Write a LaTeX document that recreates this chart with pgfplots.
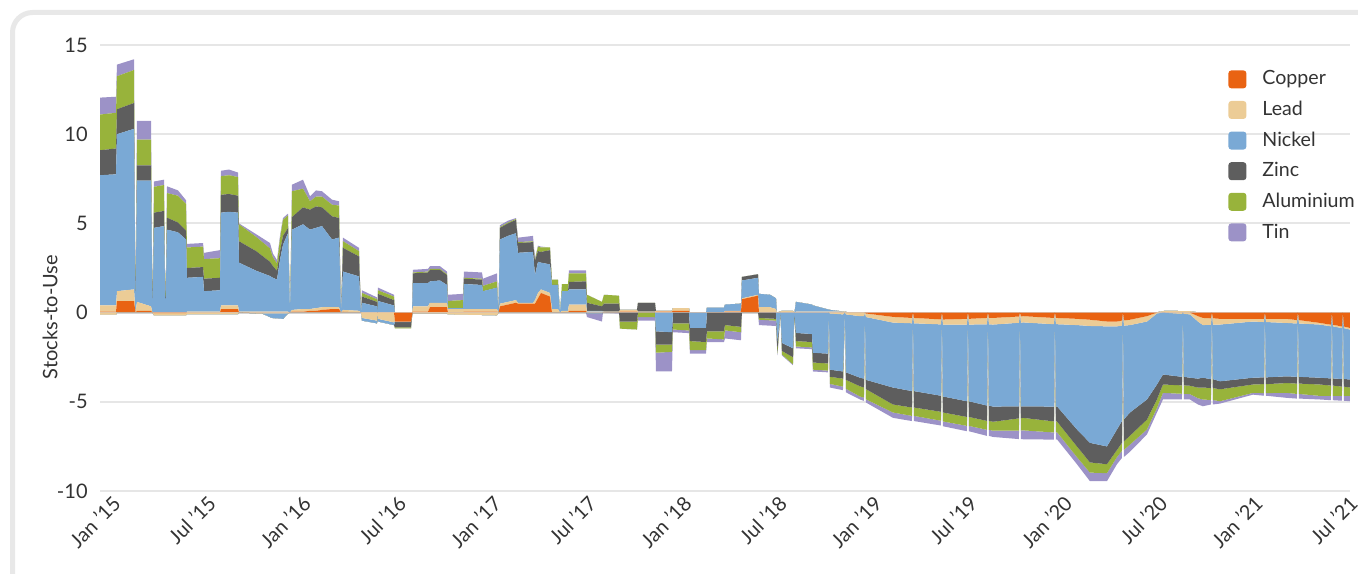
\documentclass[border=0pt]{standalone}
\usepackage{pgfplots}
\usepackage{pgfplotstable}
\pgfplotsset{compat=1.18}
\usepackage{fontspec}
\setmainfont{Lato}
\definecolor{cuC}{RGB}{233,99,18}
\definecolor{pbC}{RGB}{236,204,150}
\definecolor{niC}{RGB}{122,169,213}
\definecolor{znC}{RGB}{94,94,94}
\definecolor{alC}{RGB}{152,179,59}
\definecolor{snC}{RGB}{156,146,199}
\definecolor{gridC}{RGB}{230,230,230}
\definecolor{zeroC}{RGB}{212,212,212}
\definecolor{frameC}{RGB}{232,232,232}
\definecolor{labC}{RGB}{51,51,51}

% positive parts of stocks-to-use (x = months since Jan 2015)
\pgfplotstableread{
x cu pb ni zn al sn
-0.820 0.05 0.35 7.30 1.40 2.00 0.95
0.189 0.05 0.35 7.35 1.45 2.00 0.90
0.252 0.65 0.55 8.80 1.40 1.85 0.65
1.324 0.65 0.65 9.00 1.45 1.85 0.60
1.419 0 0 0 0 0 0
1.513 0.10 0.50 6.80 0.85 1.45 1.05
2.396 0.10 0.25 7.05 0.85 1.45 1.05
2.490 0 0 0 0 0 0
2.585 0 0 4.75 0.85 1.45 0.30
3.216 0 0 4.85 0.85 1.45 0.30
3.310 0 0 0 0 0 0
3.405 0 0 4.65 0.67 1.38 0.38
4.098 0 0 4.50 0.55 1.50 0.30
4.603 0 0 4.10 0.50 1.50 0.20
4.666 0 0.05 1.90 0.55 1.15 0.20
5.675 0 0.05 1.95 0.55 1.15 0.20
5.738 0 0.05 1.15 0.70 1.10 0.35
6.746 0 0.05 1.20 0.70 1.10 0.45
6.810 0.20 0.20 5.20 1.00 1.05 0.30
7.314 0.20 0.20 5.25 1.00 1.05 0.32
7.882 0.20 0.20 5.20 0.95 1.05 0.25
7.945 0 0.05 2.75 1.20 0.95 0.05
9.016 0 0.05 2.30 1.10 0.80 0.15
9.899 0 0.05 2.00 0.80 0.75 0.30
10.088 0 0.05 1.90 0.65 0.50 0.20
10.341 0 0.05 1.80 0.50 0.40 0.20
10.530 0 0.05 2.90 0.50 0.70 0.15
10.719 0 0.05 3.75 0.50 0.90 0.10
11.034 0 0.05 4.40 0.30 0.70 0.10
11.160 0 0 0 0 0 0
11.286 0.05 0.10 4.50 0.70 1.45 0.37
11.980 0.05 0.15 4.75 0.95 1.05 0.50
12.421 0.10 0.10 4.45 1.12 0.47 0.28
12.800 0.10 0.15 4.50 1.20 0.55 0.35
13.178 0.15 0.15 4.55 1.05 0.60 0.30
13.808 0.20 0.10 3.80 1.30 0.65 0.28
14.250 0.20 0.10 3.90 1.10 0.70 0.24
14.376 0 0 0 0 0 0
14.502 0.05 0.10 2.15 1.33 0.37 0.20
15.511 0 0.10 1.93 1.12 0.30 0.18
15.637 0 0 0 0 0 0
15.700 0 0 0.55 0.35 0.20 0.15
16.646 0 0 0.35 0.25 0.15 0.10
16.677 0 0 0 0 0 0
16.709 0 0 0.65 0.40 0.20 0.15
17.718 0 0 0.40 0.30 0.20 0.10
17.781 0 0 0 0 0 0
18.853 0 0 0 0 0 0
18.916 0.05 0.30 1.30 0.55 0.05 0.15
19.861 0.05 0.30 1.30 0.60 0.05 0.15
19.987 0.30 0.25 1.20 0.65 0.05 0.15
20.618 0.30 0.25 1.25 0.60 0.05 0.15
21.059 0.30 0.25 1.00 0.55 0.05 0.15
21.122 0 0.20 0.05 0 0.40 0.35
22.068 0 0.20 0.05 0 0.45 0.35
22.131 0.05 0.15 1.40 0.30 0.05 0.35
23.266 0.05 0.15 1.35 0.30 0.05 0.35
23.329 0.05 0.15 1.00 0 0.30 0.40
24.212 0.05 0.15 1.20 0 0.35 0.45
24.306 0 0 0 0 0 0
24.401 0.35 0.15 3.60 0.65 0.05 0.10
24.906 0.45 0.15 3.70 0.70 0.05 0.10
25.410 0.55 0.15 3.75 0.75 0.05 0.05
25.536 0.50 0.05 2.80 0.55 0.05 0.25
26.482 0.50 0.05 2.85 0.55 0.05 0.30
26.608 0.50 0.20 1.40 0.80 0.05 0.10
26.797 0.80 0.30 1.75 0.60 0.25 0.05
26.986 1.10 0.20 1.50 0.60 0.25 0.05
27.554 0.90 0.20 1.60 0.80 0.15 0
27.680 0 0.20 1.35 0 0.30 0
28.058 0 0.20 1.35 0 0.30 0
28.184 0 0 0 0 0 0
28.310 0 0.10 1.10 0 0.40 0
28.689 0 0.10 1.10 0 0.40 0
28.752 0.10 0.35 0.85 0.42 0.48 0.17
29.824 0.10 0.35 0.85 0.45 0.45 0.17
29.887 0 0.05 0.05 0.45 0.45 0
30.832 0 0.05 0.05 0.25 0.25 0
30.958 0 0.05 0 0.45 0.50 0
31.904 0 0.05 0 0.45 0.45 0
31.967 0.05 0.10 0 0 0 0
33.039 0.05 0.10 0 0 0 0
33.102 0 0.05 0 0.50 0 0
34.174 0 0.05 0 0.50 0 0
34.237 0.05 0.05 0 0 0 0
35.246 0.05 0.05 0 0 0 0
35.309 0.10 0.15 0 0 0 0
36.318 0.10 0.15 0 0 0 0
36.381 0 0 0 0 0 0
37.390 0 0 0 0 0 0
37.453 0 0 0.28 0 0 0
38.525 0 0 0.28 0 0 0
38.588 0.05 0.05 0.35 0 0 0
39.597 0.05 0.05 0.40 0 0 0
39.660 0.75 0.05 1.00 0.20 0 0
40.669 0.95 0.05 0.95 0.20 0 0
40.732 0 0.30 0.75 0 0 0
41.425 0 0.30 0.70 0 0 0
41.803 0 0.20 0.60 0 0 0
41.867 0 0 0 0 0 0
42.182 0 0.10 0 0 0 0
42.875 0 0.10 0 0 0 0
42.970 0 0 0 0 0 0
43.065 0 0.05 0.55 0 0 0
44.073 0 0.05 0.40 0 0 0
44.137 0 0.05 0.35 0 0 0
45.208 0 0.05 0.10 0 0 0
46.154 0 0.05 0 0 0 0
46.469 0 0 0 0 0 0
65.700 0 0 0 0 0 0
66.331 0 0.10 0 0 0 0
67.907 0 0.08 0 0 0 0
68.538 0 0 0 0 0 0
77.995 0 0 0 0 0 0
}\posdata

% negative parts of stocks-to-use
\pgfplotstableread{
x cu pb ni zn al sn
-0.820 0 -0.12 0 0 0 0
0.189 0 -0.12 0 0 0 0
0.252 0 0 0 0 0 0
2.490 0 0 0 0 0 0
2.585 -0.03 -0.12 0 0 0 0
4.603 -0.03 -0.12 0 0 0 0
4.666 0 -0.08 0 0 0 0
7.882 0 -0.08 0 0 0 0
7.945 0 0 0 0 0 0
9.395 0 -0.05 0 0 0 0
10.025 0 -0.05 -0.25 0 0 0
10.719 0 -0.05 -0.30 0 0 0
11.034 0 -0.05 0 0 0 0
11.160 0 0 0 0 0 0
15.637 0 0 0 0 0 0
15.700 0 -0.30 -0.15 0 0 0
16.646 0 -0.45 -0.15 0 0 0
16.677 0 0 0 0 0 0
16.709 0 -0.35 -0.15 0 0 0
17.718 0 -0.55 -0.15 0 0 0
17.781 -0.50 0 -0.03 -0.30 -0.05 0
18.790 -0.50 0 -0.03 -0.30 -0.05 0
18.884 0 0 0 0 0 0
18.916 0 -0.05 0 0 0 0
21.059 0 -0.05 0 0 0 0
21.122 0 -0.10 0 0 0 0
24.212 0 -0.15 0 0 0 0
24.306 0 0 0 0 0 0
29.824 0 0 0 0 0 0
29.887 0 0 -0.05 0 0 -0.20
30.832 0 0 -0.05 0 0 -0.45
30.895 0 0 0 0 0 0
31.904 0 0 0 0 0 -0.05
31.967 0 0 0 -0.50 -0.40 0
33.039 0 0 0 -0.50 -0.45 0
33.102 0 0 0 0 -0.25 -0.20
34.174 0 0 0 0 -0.25 -0.20
34.237 0 0 -1.05 -0.75 -0.45 -1.05
35.246 0 0 -1.10 -0.70 -0.40 -1.10
35.309 0 0 0 -0.60 -0.35 -0.15
36.318 0 0 0 -0.60 -0.40 -0.15
36.381 0 0 -0.85 -0.75 -0.50 -0.20
37.390 0 0 -0.85 -0.80 -0.45 -0.20
37.453 0 0 0 -1.05 -0.40 -0.20
38.525 0 0 0 -1.05 -0.45 -0.15
38.588 0 0 0 -0.70 -0.30 -0.45
39.597 0 0 0 -0.80 -0.30 -0.45
39.660 0 0 0 0 0 0
40.669 0 0 0 0 0 0
40.732 0 0 0 -0.30 -0.10 -0.30
41.803 0 0 0 -0.35 -0.10 -0.30
41.898 0 0 -1.60 -0.50 -0.20 -0.10
42.087 0 0 0 0 0 0
42.182 0 0 -1.70 -0.45 -0.20 -0.05
42.875 0 0 -2.00 -0.50 -0.40 -0.05
42.970 0 0 0 0 0 0
43.065 0 0 -1.14 -0.46 -0.30 -0.10
44.073 0 0 -1.20 -0.45 -0.30 -0.10
44.137 0 0 -2.25 -0.55 -0.40 -0.10
45.082 0 0 -2.30 -0.55 -0.40 -0.10
45.145 0 0 0 0 0 0
45.208 0 -0.05 -3.15 -0.40 -0.40 -0.20
46.028 0 -0.10 -3.20 -0.40 -0.45 -0.20
46.154 0 0 0 0 0 0
46.217 0 -0.10 -3.25 -0.42 -0.50 -0.20
47.100 0 -0.20 -3.45 -0.48 -0.57 -0.17
47.352 0 -0.20 -3.50 -0.50 -0.57 -0.18
47.415 0 0 0 0 0 0
47.478 -0.05 -0.20 -3.52 -0.52 -0.57 -0.18
49.181 -0.24 -0.32 -3.64 -0.95 -0.45 -0.30
50.379 -0.30 -0.30 -3.80 -0.92 -0.47 -0.29
50.442 0 0 0 0 0 0
50.505 -0.30 -0.30 -3.80 -0.92 -0.47 -0.29
52.207 -0.38 -0.28 -4.00 -0.90 -0.50 -0.27
52.270 0 0 0 0 0 0
52.333 -0.39 -0.28 -4.03 -0.90 -0.50 -0.27
53.846 -0.35 -0.32 -4.30 -0.88 -0.50 -0.30
53.909 0 0 0 0 0 0
53.972 -0.35 -0.32 -4.30 -0.88 -0.50 -0.30
55.107 -0.30 -0.36 -4.55 -0.86 -0.50 -0.34
55.171 0 0 0 0 0 0
55.234 -0.30 -0.36 -4.55 -0.86 -0.50 -0.34
55.486 -0.30 -0.37 -4.60 -0.85 -0.50 -0.35
57.125 -0.22 -0.35 -4.68 -0.68 -0.68 -0.48
57.188 0 0 0 0 0 0
57.251 -0.22 -0.35 -4.68 -0.68 -0.68 -0.48
57.377 -0.20 -0.35 -4.70 -0.65 -0.70 -0.50
59.332 -0.30 -0.35 -4.62 -0.83 -0.62 -0.40
59.395 0 0 0 0 0 0
59.458 -0.30 -0.35 -4.62 -0.83 -0.62 -0.40
59.521 -0.30 -0.35 -4.60 -0.85 -0.60 -0.40
60.782 -0.35 -0.35 -5.85 -0.95 -0.60 -0.40
61.602 -0.40 -0.35 -6.55 -1.10 -0.57 -0.48
62.674 -0.50 -0.27 -6.73 -1.00 -0.50 -0.45
63.304 -0.50 -0.27 -5.78 -1.15 -0.40 -0.40
63.619 -0.45 -0.28 -5.35 -1.22 -0.45 -0.40
63.683 0 0 0 0 0 0
63.746 -0.44 -0.29 -5.25 -1.24 -0.47 -0.40
64.124 -0.40 -0.30 -4.90 -1.30 -0.50 -0.40
65.196 -0.20 -0.30 -4.37 -1.13 -0.55 -0.28
65.826 0 -0.05 -3.98 -0.84 -0.48 -0.25
66.205 0 0 -3.47 -0.56 -0.47 -0.37
67.403 0 -0.07 -3.53 -0.48 -0.47 -0.32
67.466 0 0 0 0 0 0
67.529 0 -0.07 -3.53 -0.48 -0.47 -0.32
67.907 0 -0.10 -3.55 -0.45 -0.47 -0.30
68.411 -0.20 -0.30 -3.20 -0.50 -0.60 -0.35
68.727 -0.30 -0.40 -2.95 -0.55 -0.67 -0.38
69.231 -0.32 -0.36 -3.05 -0.50 -0.67 -0.25
69.294 0 0 0 0 0 0
69.357 -0.32 -0.36 -3.05 -0.50 -0.67 -0.25
69.799 -0.35 -0.32 -3.18 -0.45 -0.67 -0.13
71.879 -0.35 -0.15 -3.15 -0.38 -0.47 -0.10
72.573 -0.35 -0.18 -3.10 -0.38 -0.50 -0.15
72.636 0 0 0 0 0 0
72.699 -0.35 -0.18 -3.10 -0.38 -0.50 -0.15
74.023 -0.35 -0.23 -2.99 -0.38 -0.55 -0.28
74.654 -0.42 -0.19 -2.99 -0.38 -0.58 -0.26
74.717 0 0 0 0 0 0
74.780 -0.42 -0.19 -2.99 -0.38 -0.58 -0.26
76.104 -0.58 -0.09 -2.98 -0.38 -0.64 -0.20
76.797 -0.68 -0.09 -2.92 -0.40 -0.58 -0.24
76.860 0 0 0 0 0 0
76.923 -0.68 -0.09 -2.92 -0.40 -0.58 -0.24
77.491 -0.78 -0.09 -2.85 -0.43 -0.52 -0.27
77.554 0 0 0 0 0 0
77.617 -0.78 -0.09 -2.85 -0.43 -0.52 -0.27
77.995 -0.86 -0.09 -2.80 -0.45 -0.47 -0.30
}\negdata

\pgfplotsset{
  commonax/.style={
    at={(50pt,41pt)}, anchor=south west,
    scale only axis, width=625pt, height=223pt,
    xmin=-0.82, xmax=78, ymin=-10, ymax=15,
    stack plots=y,
  },
}

\begin{document}
\begin{tikzpicture}
\useasboundingbox (0,0) rectangle (679pt,286.5pt);
\draw[frameC, line width=2.5pt, rounded corners=10pt] (6.25pt,-40pt) rectangle (740pt,280.25pt);

\begin{axis}[commonax,
  axis line style={draw=none},
  major tick length=0pt,
  ymajorgrids, grid style={gridC, line width=1pt},
  xtick={0,6,...,78},
  xticklabels={Jan '15,Jul '15,Jan '16,Jul '16,Jan '17,Jul '17,Jan '18,Jul '18,Jan '19,Jul '19,Jan '20,Jul '20,Jan '21,Jul '21},
  ytick={-10,-5,0,5,10,15},
  yticklabels={-10,-5,0,5,10,15},
  tick label style={font=\fontsize{10}{12}\selectfont, text=labC},
  xticklabel style={rotate=45, anchor=north east, inner sep=0.5pt, xshift=-1.2pt},
  yticklabel style={inner sep=0pt, xshift=-6pt},
  ylabel={Stocks-to-Use},
  ylabel style={at={(axis description cs:-0.04,0.39)}, anchor=center, font=\fontsize{10}{12}\selectfont, text=labC},
  legend cell align=left,
  legend image code/.code={\fill[#1, rounded corners=1.5pt] (0pt,-4.5pt) rectangle (9pt,4.5pt);},
  legend style={at={(rel axis cs:0.9024,0.944)}, anchor=north west, draw=none, fill=none,
    inner sep=0pt, row sep=6.3pt, column sep=8pt, nodes={inner sep=0pt},
    font=\fontsize{9.8}{11.5}\selectfont, text=labC},
]
\addplot[fill=cuC, draw=none] table[x=x, y=cu] {\posdata} \closedcycle;
\addplot[fill=pbC, draw=none] table[x=x, y=pb] {\posdata} \closedcycle;
\addplot[fill=niC, draw=none] table[x=x, y=ni] {\posdata} \closedcycle;
\addplot[fill=znC, draw=none] table[x=x, y=zn] {\posdata} \closedcycle;
\addplot[fill=alC, draw=none] table[x=x, y=al] {\posdata} \closedcycle;
\addplot[fill=snC, draw=none] table[x=x, y=sn] {\posdata} \closedcycle;
\legend{Copper,Lead,Nickel,Zinc,Aluminium,Tin}
\end{axis}

\begin{axis}[commonax, hide axis]
\addplot[fill=cuC, draw=none] table[x=x, y=cu] {\negdata} \closedcycle;
\addplot[fill=pbC, draw=none] table[x=x, y=pb] {\negdata} \closedcycle;
\addplot[fill=niC, draw=none] table[x=x, y=ni] {\negdata} \closedcycle;
\addplot[fill=znC, draw=none] table[x=x, y=zn] {\negdata} \closedcycle;
\addplot[fill=alC, draw=none] table[x=x, y=al] {\negdata} \closedcycle;
\addplot[fill=snC, draw=none] table[x=x, y=sn] {\negdata} \closedcycle;
\draw[zeroC, line width=1pt] (axis cs:-0.82,0) -- (axis cs:78,0);
\end{axis}
\end{tikzpicture}
\end{document}
